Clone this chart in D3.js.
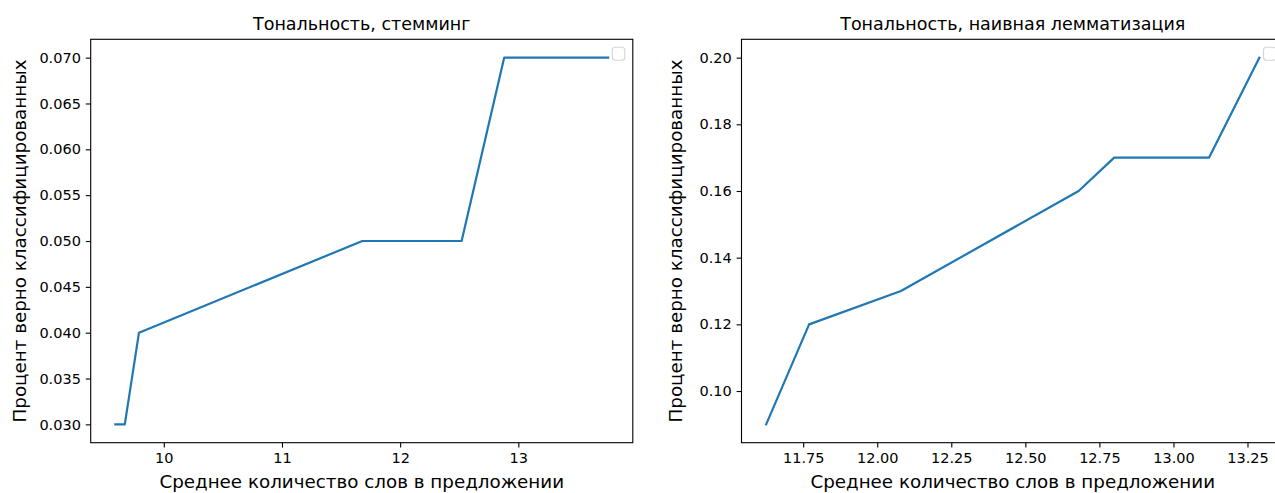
<!DOCTYPE html>
<html>
<head>
<meta charset="utf-8">
<script src="https://cdn.jsdelivr.net/npm/d3@7"></script>
<style>
  html, body { margin: 0; padding: 0; background: #fff; overflow: hidden; }
  svg { display: block; }
  text { font-family: "DejaVu Sans", sans-serif; fill: #000; }
</style>
</head>
<body>
<svg id="chart" width="1275" height="493"></svg>
<script>
// ---- Data ----
const stemX = [9.59, 9.67, 9.79, 11.68, 12.52, 12.88, 13.76];
const stemY = [0.030, 0.030, 0.040, 0.050, 0.050, 0.070, 0.070];
const stemXTicks = [10, 11, 12, 13];
const stemYTicks = [0.030, 0.035, 0.040, 0.045, 0.050, 0.055, 0.060, 0.065, 0.070];

const lemX = [11.625, 11.77, 12.08, 12.68, 12.80, 13.12, 13.29];
const lemY = [0.09, 0.12, 0.13, 0.16, 0.17, 0.17, 0.20];
const lemXTicks = [11.75, 12.00, 12.25, 12.50, 12.75, 13.00, 13.25];
const lemYTicks = [0.10, 0.12, 0.14, 0.16, 0.18, 0.20];

const titles = ["Тональность, стемминг", "Тональность, наивная лемматизация"];
const xLabel = "Среднее количество слов в предложении";
const yLabel = "Процент верно классифицированных";

// ---- Layout ----
const svg = d3.select("#chart");
const panels = [
  { xs: stemX, ys: stemY, xt: stemXTicks, yt: stemYTicks, xf: d3.format("d"), yf: d3.format(".3f"),
    title: titles[0], box: { l: 90.7, r: 632.8, t: 39.3, b: 442.7 }, ylabX: 26 },
  { xs: lemX, ys: lemY, xt: lemXTicks, yt: lemYTicks, xf: d3.format(".2f"), yf: d3.format(".2f"),
    title: titles[1], box: { l: 741.5, r: 1284, t: 39.3, b: 442.7 }, ylabX: 682 }
];

const tickLen = 4.9, tickPad = 4.9;

panels.forEach(p => {
  const b = p.box;
  const xmin = d3.min(p.xs), xmax = d3.max(p.xs);
  const ymin = d3.min(p.ys), ymax = d3.max(p.ys);
  const mx = (xmax - xmin) * 0.05, my = (ymax - ymin) * 0.05;
  const x = d3.scaleLinear().domain([xmin - mx, xmax + mx]).range([b.l, b.r]);
  const y = d3.scaleLinear().domain([ymin - my, ymax + my]).range([b.b, b.t]);

  const g = svg.append("g");

  // line
  const line = d3.line().x((d, i) => x(p.xs[i])).y((d, i) => y(p.ys[i]));
  g.append("path").datum(p.xs).attr("d", line)
    .attr("fill", "none").attr("stroke", "#1f77b4").attr("stroke-width", 2.2)
    .attr("stroke-linejoin", "round").attr("stroke-linecap", "square");

  // axes
  const xAxis = d3.axisBottom(x).tickValues(p.xt).tickFormat(p.xf).tickSize(tickLen).tickPadding(tickPad);
  const yAxis = d3.axisLeft(y).tickValues(p.yt).tickFormat(p.yf).tickSize(tickLen).tickPadding(tickPad);
  const gx = g.append("g").attr("transform", `translate(0,${b.b})`).call(xAxis);
  const gy = g.append("g").attr("transform", `translate(${b.l},0)`).call(yAxis);
  [gx, gy].forEach(a => {
    a.select(".domain").remove();
    a.selectAll(".tick line").attr("stroke", "#000").attr("stroke-width", 1.1);
    a.selectAll(".tick text").attr("font-size", 14.5).attr("font-family", "DejaVu Sans").attr("fill", "#000");
  });

  // frame
  g.append("rect").attr("x", b.l).attr("y", b.t).attr("width", b.r - b.l).attr("height", b.b - b.t)
    .attr("fill", "none").attr("stroke", "#000").attr("stroke-width", 1.1);

  // empty legend box
  g.append("rect").attr("x", b.r - 20.5).attr("y", b.t + 8).attr("width", 12.5).attr("height", 13)
    .attr("rx", 3).attr("fill", "#fff").attr("stroke", "#d5d5d5").attr("stroke-width", 1.1);

  // title
  g.append("text").attr("x", (b.l + b.r) / 2).attr("y", b.t - 9)
    .attr("text-anchor", "middle").attr("font-size", 17.5).text(p.title);

  // x label
  g.append("text").attr("x", (b.l + b.r) / 2).attr("y", 488)
    .attr("text-anchor", "middle").attr("font-size", 18.3).text(xLabel);

  // y label
  g.append("text").attr("transform", `translate(${p.ylabX},${(b.t + b.b) / 2}) rotate(-90)`)
    .attr("text-anchor", "middle").attr("font-size", 18.3).text(yLabel);
});
</script>
</body>
</html>
